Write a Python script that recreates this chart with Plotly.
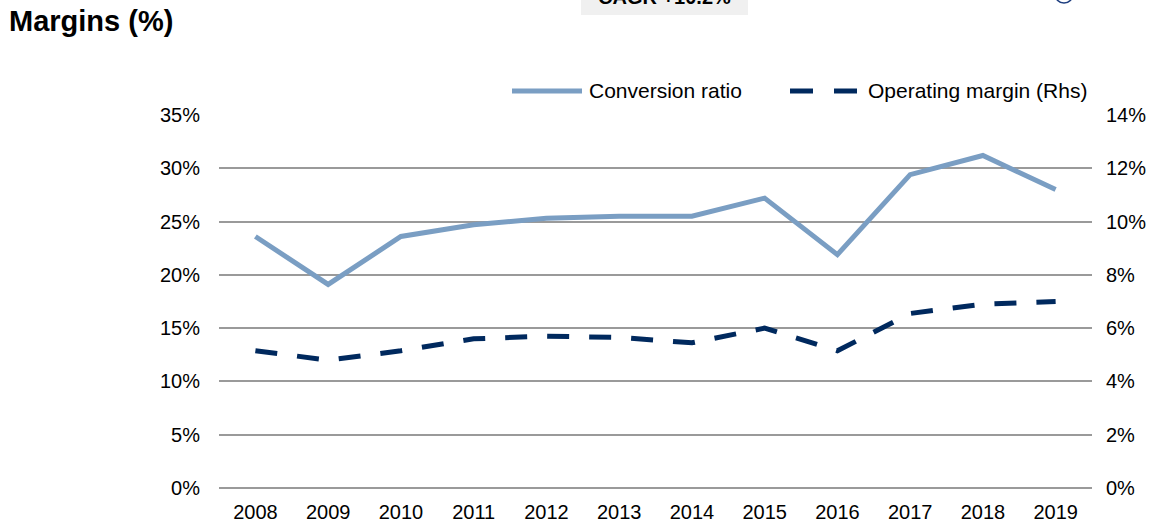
import plotly.graph_objects as go

years = ["2008", "2009", "2010", "2011", "2012", "2013", "2014", "2015", "2016", "2017", "2018", "2019"]
conversion_ratio = [23.6, 19.1, 23.6, 24.7, 25.3, 25.5, 25.5, 27.2, 21.9, 29.4, 31.2, 28.0]
operating_margin = [5.15, 4.8, 5.15, 5.6, 5.7, 5.65, 5.45, 6.0, 5.15, 6.55, 6.9, 7.0]
left_ticks = [0, 5, 10, 15, 20, 25, 30, 35]
right_ticks = [0, 2, 4, 6, 8, 10, 12, 14]
left_labels = [f"{v}%" for v in left_ticks]
right_labels = [f"{v}%" for v in right_ticks]

W, H = 1158, 528
L, R, T, B = 219, 66, 115, 40
PW, PH = W - L - R, H - T - B
LIGHT = "#7A9EC3"
DARK = "#00295E"
GRID = "#9a9a9a"
FONT = "Liberation Sans, Arial, sans-serif"


def px(x):
    return (x - L) / PW


def py(y):
    return (H - B - y) / PH


fig = go.Figure()
fig.add_trace(go.Scatter(
    x=years, y=conversion_ratio, mode="lines", name="Conversion ratio",
    line=dict(color=LIGHT, width=5), yaxis="y", showlegend=False))
fig.add_trace(go.Scatter(
    x=years, y=operating_margin, mode="lines", name="Operating margin (Rhs)",
    line=dict(color=DARK, width=5, dash="22px,20px"), yaxis="y2", showlegend=False))

shapes = [
    dict(type="line", xref="paper", yref="paper", x0=px(512), x1=px(582), y0=py(91), y1=py(91),
         line=dict(color=LIGHT, width=5)),
    dict(type="line", xref="paper", yref="paper", x0=px(790), x1=px(813), y0=py(91), y1=py(91),
         line=dict(color=DARK, width=5)),
    dict(type="line", xref="paper", yref="paper", x0=px(834), x1=px(857), y0=py(91), y1=py(91),
         line=dict(color=DARK, width=5)),
    dict(type="rect", xref="paper", yref="paper", x0=px(581), x1=px(748), y0=py(-30), y1=py(15),
         fillcolor="#f0f0f0", line=dict(width=0), layer="below"),
    dict(type="circle", xref="paper", yref="paper", x0=px(1055), x1=px(1073), y0=py(-15), y1=py(3),
         line=dict(color="#1F3F80", width=1.5)),
]

annotations = [
    dict(text="Conversion ratio", xref="paper", yref="paper", x=px(587), y=py(91),
         xanchor="left", yanchor="middle", showarrow=False,
         font=dict(family=FONT, size=21, color="#000000")),
    dict(text="Operating margin (Rhs)", xref="paper", yref="paper", x=px(866), y=py(91),
         xanchor="left", yanchor="middle", showarrow=False,
         font=dict(family=FONT, size=21, color="#000000")),
    dict(text="<b>CAGR +10.2%</b>", xref="paper", yref="paper", x=px(664), y=py(-2.5),
         xanchor="center", yanchor="middle", showarrow=False,
         font=dict(family=FONT, size=20, color="#000000")),
    dict(text="<b>Margins (%)</b>", xref="paper", yref="paper", x=px(7), y=py(21),
         xanchor="left", yanchor="middle", showarrow=False,
         font=dict(family=FONT, size=29, color="#000000")),
]

fig.update_layout(
    width=W, height=H,
    margin=dict(l=L, r=R, t=T, b=B, pad=0, autoexpand=False),
    paper_bgcolor="white", plot_bgcolor="white",
    font=dict(family=FONT, size=20, color="#000000"),
    shapes=shapes, annotations=annotations,
    xaxis=dict(type="category", range=[-0.5, 11.5], showgrid=False, showline=False,
               zeroline=False, ticks="outside", ticklen=6, tickcolor="rgba(0,0,0,0)",
               tickfont=dict(size=20), automargin=False),
    yaxis=dict(range=[0, 35], tickmode="array", tickvals=left_ticks, ticktext=left_labels,
               showgrid=True, gridcolor=GRID, gridwidth=1.5, zeroline=True, zerolinecolor=GRID,
               zerolinewidth=1.5, showline=False, ticks="outside", ticklen=14,
               tickcolor="rgba(0,0,0,0)", tickfont=dict(size=20), automargin=False),
    yaxis2=dict(range=[0, 14], tickmode="array", tickvals=right_ticks, ticktext=right_labels,
                overlaying="y", side="right", showgrid=False, zeroline=False, showline=False,
                ticks="outside", ticklen=9, tickcolor="rgba(0,0,0,0)", tickfont=dict(size=20),
                automargin=False),
)

fig.write_html("out.html", config={"displayModeBar": False},
               post_script="document.body.style.margin='0';")
